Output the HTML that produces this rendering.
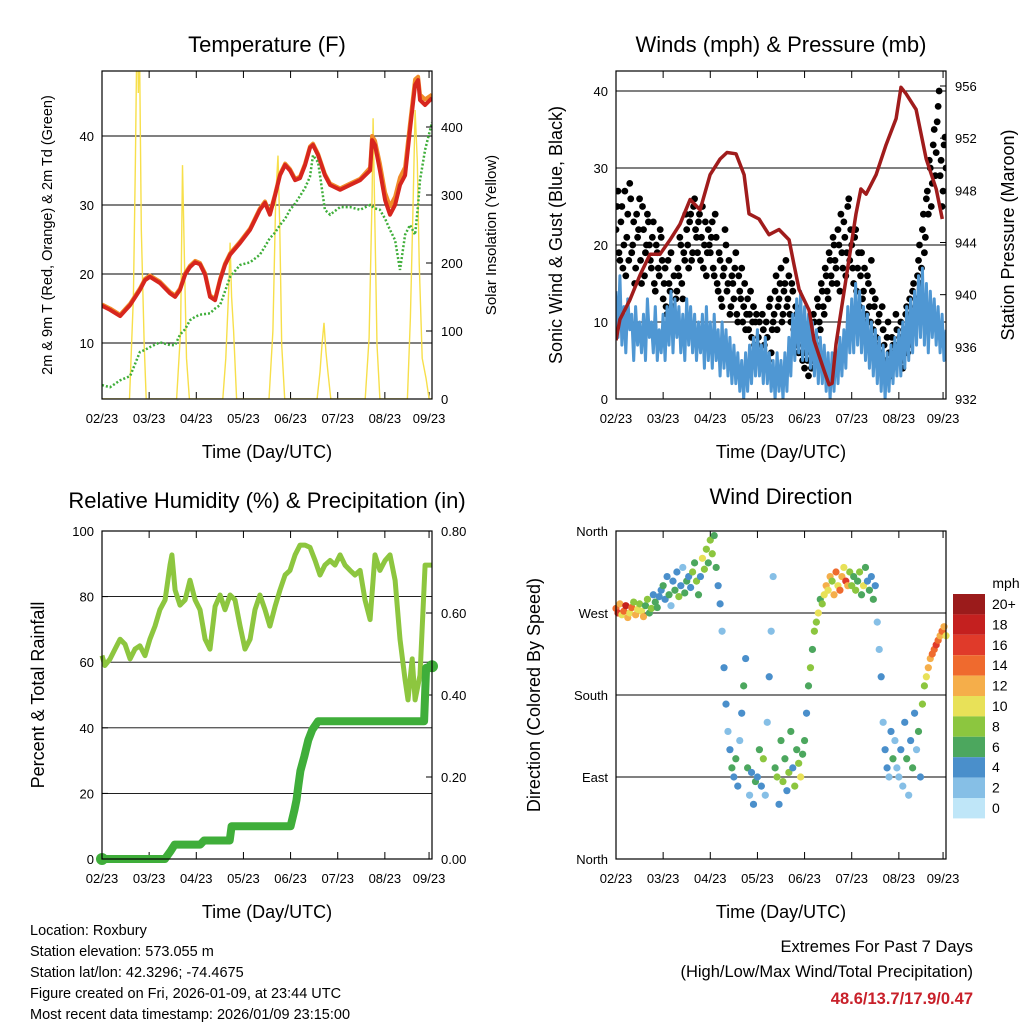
<!DOCTYPE html>
<html><head><meta charset="utf-8"><style>
html,body{margin:0;padding:0;background:#fff;}
svg{display:block;font-family:"Liberation Sans",sans-serif;}
</style></head><body>
<svg id="chart" width="1024" height="1024" viewBox="0 0 1024 1024" xmlns="http://www.w3.org/2000/svg"></svg>
<script>
// ===== shared time ticks (hours from start) =====
const tickHours = [0, 24, 48, 72, 96, 120, 144, 166.5];
const tickLabels = ["02/23","03/23","04/23","05/23","06/23","07/23","08/23","09/23"];

// ===== temperature panel =====
const tempHours = [0,4.1,9.2,14.3,19.3,21.9,24.4,29.5,34.6,37.2,39.7,42.3,44.8,47.4,49.9,52.5,55,57.6,60.1,62.6,65.2,70.3,75.4,80.4,83,85.5,88.1,90.6,93.2,95.7,98.3,100.8,103.4,105.9,107.4,110,113.5,116.1,121.2,126.3,131.4,136.5,137.5,139,141.5,144.1,146.6,149.2,151.7,154.3,156.8,159.4,160.9,161.9,164.5,168];
const tempRed = [15.4,14.8,13.9,15.5,17.7,19.1,19.6,18.7,17.2,16.7,17.7,19.9,21,21.7,21.4,19.9,16.7,16.2,19.1,21.3,22.8,24.5,26.4,29.3,30.3,28.6,31.4,34.3,35.8,35,33.6,33.9,35.8,38.3,38.7,37.2,34.3,32.9,32.2,32.9,33.6,35,39.4,38.7,35,30.7,28.6,30,32.9,34.3,40.9,47.4,48.1,45.2,44.5,45.5];
const tempOrange = [15.6,15,14.1,15.7,17.9,19.3,19.8,18.9,17.4,16.9,17.9,20.1,21.2,21.9,21.6,20.1,16.9,16.4,19.3,21.5,23,24.7,26.6,29.5,30.5,28.8,31.6,34.5,36,35.2,33.8,34.1,36,38.5,38.9,37.4,34.5,33.1,32.4,33.1,33.8,35.4,40,39.3,36,31.8,29.8,31.2,34,35.5,41.8,48.2,48.6,46,45.3,46];
const tempDew = [3.9,3.6,4.6,5.2,8.7,9,9.4,10.1,9.7,9.7,11.2,12,13.3,13.8,14.1,14.2,14.3,15,15.5,17.5,19.6,21.3,21.7,22.8,24,25.2,26,27.1,28,29.3,30.2,31.3,32.5,34.1,37.2,36.2,29.3,28.6,29.7,29.7,29.3,30,29.8,29.5,29.3,28,26.4,24.9,20.6,25.7,27.1,25.7,30,33.6,38,42];
const solarHours = [0,14,16,17,18,18.5,19,20,21.5,22.5,38,40,41,42,43,44.5,61.5,63,64.5,65.2,66,67,68.5,85,87,88.5,89.6,90.5,91.5,93,109.5,111,112,113,114,115,116.5,134,136,137.5,138,139,140,141.5,155.5,157,158.5,159.4,160.5,161.5,163,165,166.5,168];
const solarVals = [0,0,150,350,600,450,550,250,80,0,0,100,344,200,60,0,0,60,160,230,150,100,0,0,100,300,358,250,80,0,0,40,80,112,70,40,0,0,90,300,413,250,80,0,0,120,300,425,350,200,60,30,0,0];

// ===== winds panel =====
const presHours = [0,2,7.1,12.2,17.3,22.4,27.5,32.6,37.7,42.8,47.9,53,56.5,61.1,65.2,67.7,72.8,77.9,83,88.1,90.6,93.2,98.3,100.8,105.9,108.5,110,112,117.1,122.2,124.7,127.3,132.4,137.5,142.6,145.1,147.7,152.8,157.9,163,166.1];
const presVals = [936.5,938.1,939.6,941.5,943.1,943.1,944.2,945.4,947.3,946.5,949.2,950.4,950.9,950.8,949.2,946.2,945.8,944.6,945,944.2,942.3,940.4,938.8,936.5,934.2,933.1,933.2,936.2,941.2,946.2,948.1,947.7,949.2,951.5,953.5,955.9,955.4,954.2,950.4,948.1,945.8];
const gustVals = [22,27,18,25,20,16,24,28,19,23,17,21,26,15,22,19,24,20,17,23,14,19,16,21,
13,17,11,15,19,12,10,14,16,20,13,18,22,17,24,19,26,21,23,18,25,20,16,22,
19,23,16,21,14,18,12,17,20,15,11,16,13,19,10,14,17,12,9,13,11,8,12,10,
7,10,5,9,4,8,12,6,10,14,9,13,17,11,15,12,16,10,14,8,11,6,9,5,
4,7,3,8,5,10,7,12,9,14,11,16,13,18,15,20,17,22,14,19,23,16,25,18,
20,15,22,17,12,19,14,10,16,12,18,9,13,7,11,5,9,4,8,6,3,7,5,9,
6,10,4,8,12,7,11,14,9,13,18,15,22,19,26,24,30,28,35,32,38,29,25,33,30];
const gustValsHalf = [25,19,23,17,27,21,18,26,20,15,24,22,18,25,16,20,23,18,21,15,20,17,22,18,
15,12,18,14,10,16,13,17,21,15,19,24,20,23,18,25,22,19,24,21,17,23,19,20,
21,17,24,15,19,13,16,22,14,18,12,15,17,11,16,13,10,15,11,9,14,10,7,11,
8,6,11,7,10,5,13,9,11,16,12,15,10,14,18,13,11,15,9,12,7,10,6,8,
6,5,9,4,11,8,13,10,15,12,17,14,19,16,21,18,15,20,24,17,21,19,26,22,
17,21,14,19,16,13,17,11,15,10,14,12,8,10,6,12,7,5,10,4,8,6,11,7,
8,5,9,11,6,13,10,15,12,16,20,17,24,21,27,31,25,33,29,36,40,31,27,34];
const windVals = [14,8,16,7,12,6,13,9,11,5,12,7,10,6,11,5,13,8,10,6,12,5,9,6,
11,5,12,7,14,6,13,8,12,6,11,5,13,7,12,6,11,5,10,6,11,4,12,5,
10,4,11,5,9,3,10,4,9,3,8,2,7,2,6,1,5,0,6,1,7,2,8,3,
9,3,7,2,8,2,6,1,5,0,6,1,5,0,6,1,8,3,11,5,13,6,14,5,
12,5,11,4,10,3,9,2,8,2,7,1,6,0,6,1,7,2,8,3,9,4,12,6,
13,6,15,7,14,6,12,5,11,4,10,3,9,2,8,1,7,0,6,1,7,2,8,3,
9,3,10,4,12,5,13,6,14,7,16,8,17,7,15,6,14,8,13,7,12,6,11,5,9];

// ===== humidity panel =====
const rhHours = [0,1.5,4.1,6.6,9.2,11.7,14.3,16.8,19.3,21.9,24.4,27,29.5,32.1,34.6,35.6,37.2,39.7,42.3,44.8,47.4,49.9,52.5,55,57.6,60.1,62.6,65.2,67.7,70.3,72.8,75.4,77.9,80.4,83,85.5,88.1,90.6,93.2,95.7,98.3,100.8,103.4,105.9,108.5,111,113.5,116.1,118.6,121.2,123.7,126.3,128.8,131.4,133.9,136.5,139,141.5,144.1,146.6,149.2,151.7,154.3,155.8,157.9,159.4,161.9,164.5,168];
const rhVals = [62,59,61,64,67,65.5,61,64,65,62,67,71,76,79,89.6,92.7,82,77.4,79,85,79,76,67,64,77,80.5,76,80.5,79,71,64,67,76,80.5,76,71,77,82,86.6,88,92.7,95.7,95.7,95,91,86.6,89.6,91,89.6,92.7,89.6,88,86.6,88,79,73,92.7,88,91,92.7,85,67,54.6,48.5,61,48.5,56,89.6,89.6];
const rainHours = [0,32,35,37,50,52,65,66,96,98,99,100,101,103,105,107,110,164,165,168];
const rainVals = [0,0,0.02,0.035,0.035,0.045,0.045,0.08,0.08,0.12,0.144,0.18,0.215,0.25,0.29,0.315,0.336,0.336,0.466,0.47];

// ===== wind direction panel (hourly) =====
const dirVals = [275,270,280,268,272,278,265,270,276,282,268,274,280,272,266,278,285,270,275,290,282,276,288,295,
300,285,310,290,278,305,295,315,288,300,320,292,305,310,298,315,325,305,290,310,330,318,340,325,
350,335,355,320,300,280,250,210,170,140,120,100,90,110,80,130,160,190,220,100,70,95,60,85,
90,120,80,110,70,150,200,250,310,100,90,60,130,85,110,75,95,140,100,80,120,105,90,115,
130,160,190,210,230,250,260,270,285,280,290,300,295,310,305,290,315,300,295,310,320,305,300,315,
300,310,295,305,315,290,300,320,305,295,310,285,300,260,230,200,150,120,100,90,140,110,130,100,
90,120,80,150,110,70,130,100,160,120,140,90,170,190,200,210,220,225,230,235,240,245,250,255,245];
const spdVals = [14,16,13,11,15,18,12,10,14,9,12,11,8,10,12,7,9,6,8,5,7,6,4,5,
6,5,4,7,3,5,6,4,8,5,3,6,7,4,5,8,6,9,7,5,10,8,9,7,
8,9,7,6,5,4,3,4,5,3,4,6,5,7,4,3,5,6,4,7,3,5,4,6,
5,7,4,8,3,2,4,3,2,6,8,5,7,9,6,4,8,7,5,9,6,8,10,7,
6,5,7,8,6,9,8,10,7,9,11,12,10,13,9,12,14,11,15,13,10,16,12,9,
8,7,9,6,8,7,10,6,5,7,4,6,5,3,2,4,3,4,5,3,4,6,3,2,
3,5,2,4,6,3,5,7,4,2,6,5,8,9,10,12,13,14,15,16,14,12,15,13,11];
const speedBinLabels = ["20+","18","16","14","12","10","8","6","4","2","0"];
const speedBinColors = ["#9b1b1b","#c4201f","#e03a2a","#ef6a2e","#f5ae4a","#e8e158","#8cc63f","#4ca75e","#4a8fcb","#86bfe6","#bfe6f8"];

// ===== helpers =====
const NS="http://www.w3.org/2000/svg";
const svg=document.getElementById('chart');
function el(tag,attrs,parent,text){const e=document.createElementNS(NS,tag);for(const k in attrs)e.setAttribute(k,attrs[k]);if(text!==undefined)e.textContent=text;(parent||svg).appendChild(e);return e;}
function group(name){const g=el('g',{});return g;}
function scale(d0,d1,r0,r1){return v=>r0+(v-d0)/(d1-d0)*(r1-r0);}
function pathD(xs,ys,fx,fy){return xs.map((x,i)=>(i?'L':'M')+fx(x).toFixed(1)+','+fy(ys[i]).toFixed(1)).join('');}
function speedColor(s){let idx=Math.min(10,Math.floor(s/2));return speedBinColors[10-idx];}

function panel(name,x0,y0,x1,y1,title,titleY){
  const g=group(name);
  const t=el('text',{x:(x0+x1)/2,y:titleY,'text-anchor':'middle','font-size':22},g,title);
  
  const xl=el('text',{x:(x0+x1)/2,y:y1+59,'text-anchor':'middle','font-size':18},g,'Time (Day/UTC)');
  
  const fx=scale(0,168,x0,x1);
  tickHours.forEach((h,i)=>{
    el('line',{x1:fx(h),x2:fx(h),y1:y1,y2:y1-7,stroke:'#000','stroke-width':1},g);
    el('line',{x1:fx(h),x2:fx(h),y1:y0,y2:y0+7,stroke:'#000','stroke-width':1},g);
    const tl=el('text',{x:fx(h),y:y1+24,'text-anchor':'middle','font-size':13},g,tickLabels[i]);
    
  });
  return {g,fx};
}
function frame(g,x0,y0,x1,y1){el('rect',{x:x0,y:y0,width:x1-x0,height:y1-y0,fill:'none',stroke:'#000','stroke-width':1.2},g);}
function yTicks(g,vals,labels,fy,x0,x1,side,grid){
  vals.forEach((v,i)=>{
    const y=fy(v);
    if(grid) el('line',{x1:x0,x2:x1,y1:y,y2:y,stroke:'#000','stroke-width':0.9},g);
    const xx=side==='left'?x0:x1;
    el('line',{x1:xx,x2:side==='left'?xx+6:xx-6,y1:y,y2:y,stroke:'#000'},g);
    const t=el('text',{x:side==='left'?x0-8:x1+9,y:y+5,'text-anchor':side==='left'?'end':'start','font-size':13},g,labels[i]);
    
  });
}
function vlabel(g,x,y,text,size,name){const t=el('text',{x:x,y:y,'text-anchor':'middle','font-size':size,transform:`rotate(-90 ${x} ${y})`},g,text);}

// ===== Panel 1: Temperature =====
(function(){
  const X0=102,Y0=71,X1=432,Y1=399;
  const {g,fx}=panel('temperature-panel',X0,Y0,X1,Y1,'Temperature (F)',52);
  const fy=scale(10,40,343,136);
  const fs=scale(0,400,399,127);
  yTicks(g,[10,20,30,40],['10','20','30','40'],fy,X0,X1,'left',true);
  yTicks(g,[0,100,200,300,400],['0','100','200','300','400'],fs,X0,X1,'right',false);
  vlabel(g,52,235,'2m & 9m T (Red, Orange) & 2m Td (Green)',14.5,'temperature-y-axis-title');
  vlabel(g,496,235,'Solar Insolation (Yellow)',15,'solar-y-axis-title');
  const clip=el('clipPath',{id:'c1'},g);el('rect',{x:X0,y:Y0,width:X1-X0,height:Y1-Y0},clip);
  const sg=el('g',{'clip-path':'url(#c1)'},g);
  const sp=el('path',{d:pathD(solarHours,solarVals,fx,fs),fill:'none',stroke:'#f7df4a','stroke-width':1.4},sg);
  
  const op=el('path',{d:pathD(tempHours,tempOrange,fx,fy),fill:'none',stroke:'#f08c2a','stroke-width':4,'stroke-linejoin':'round'},sg);
  
  const rp=el('path',{d:pathD(tempHours,tempRed,fx,fy),fill:'none',stroke:'#d7261e','stroke-width':4,'stroke-linejoin':'round'},sg);
  
  const dp=el('path',{d:pathD(tempHours,tempDew,fx,fy),fill:'none',stroke:'#3fae3a','stroke-width':2.5,'stroke-dasharray':'2 2'},sg);
  
  frame(g,X0,Y0,X1,Y1);
})();

// ===== Panel 2: Winds =====
(function(){
  const X0=616,Y0=71,X1=946,Y1=399;
  const {g,fx}=panel('winds-panel',X0,Y0,X1,Y1,'Winds (mph) & Pressure (mb)',52);
  const fy=scale(0,40,399,91);
  const fp=scale(932,956,399,86);
  yTicks(g,[0,10,20,30,40],['0','10','20','30','40'],fy,X0,X1,'left',true);
  yTicks(g,[932,936,940,944,948,952,956],['932','936','940','944','948','952','956'],fp,X0,X1,'right',false);
  vlabel(g,562,235,'Sonic Wind & Gust (Blue, Black)',18,'wind-y-axis-title');
  vlabel(g,1014,235,'Station Pressure (Maroon)',18,'pressure-y-axis-title');
  const clip=el('clipPath',{id:'c2'},g);el('rect',{x:X0,y:Y0,width:X1-X0,height:Y1-Y0},clip);
  const sg=el('g',{'clip-path':'url(#c2)'},g);
  gustVals.forEach((v,i)=>{
    const c=el('circle',{cx:fx(i),cy:fy(v),r:3.4,fill:'#000'},sg);
    
  });
  gustValsHalf.forEach((v,i)=>{
    const c=el('circle',{cx:fx(i+0.5),cy:fy(v),r:3.4,fill:'#000'},sg);
    
  });
  const wh=windVals.map((_,i)=>i);
  const wp=el('path',{d:pathD(wh,windVals,fx,fy),fill:'none',stroke:'#4f97d3','stroke-width':3,'stroke-linejoin':'round'},sg);
  
  const pp=el('path',{d:pathD(presHours,presVals,fx,fp),fill:'none',stroke:'#a01c1c','stroke-width':3.5,'stroke-linejoin':'round'},sg);
  
  frame(g,X0,Y0,X1,Y1);
})();

// ===== Panel 3: RH & Precip =====
(function(){
  const X0=102,Y0=531,X1=432,Y1=859;
  const {g,fx}=panel('humidity-panel',X0,Y0,X1,Y1,'Relative Humidity (%) & Precipitation (in)',508);
  const fy=scale(0,100,859,531);
  const fr=scale(0,0.8,859,531);
  yTicks(g,[0,20,40,60,80,100],['0','20','40','60','80','100'],fy,X0,X1,'left',true);
  yTicks(g,[0,0.2,0.4,0.6,0.8],['0.00','0.20','0.40','0.60','0.80'],fr,X0,X1,'right',false);
  vlabel(g,44,695,'Percent & Total Rainfall',18,'humidity-y-axis-title');
  const rh=el('path',{d:pathD(rhHours,rhVals,fx,fy),fill:'none',stroke:'#8dc63f','stroke-width':5,'stroke-linejoin':'round'},g);
  
  const rp=el('path',{d:pathD(rainHours,rainVals,fx,fr),fill:'none',stroke:'#3fae3a','stroke-width':8,'stroke-linejoin':'round'},g);
  
  [0,rainHours.length-1].forEach(i=>{el('circle',{cx:fx(rainHours[i]),cy:fr(rainVals[i]),r:6,fill:'#3fae3a'},g);});
  frame(g,X0,Y0,X1,Y1);
})();

// ===== Panel 4: Wind direction =====
(function(){
  const X0=616,Y0=531,X1=946,Y1=859;
  const {g,fx}=panel('wind-direction-panel',X0,Y0,X1,Y1,'Wind Direction',504);
  const fy=scale(0,360,859,531);
  yTicks(g,[0,90,180,270,360],['North','East','South','West','North'],fy,X0,X1,'left',true);
  vlabel(g,540,695,'Direction (Colored By Speed)',18,'direction-y-axis-title');
  dirVals.forEach((d,i)=>{
    const c=el('circle',{cx:fx(i),cy:fy(d),r:3.6,fill:speedColor(spdVals[i])},g);
    
  });
  frame(g,X0,Y0,X1,Y1);
  const lg=group('speed-colorbar');
  const t=el('text',{x:1006,y:588,'text-anchor':'middle','font-size':14},lg,'mph');
  
  speedBinColors.forEach((c,i)=>{
    el('rect',{x:953,y:594+i*20.4,width:32,height:20.4,fill:c},lg);
    const l=el('text',{x:992,y:609+i*20.4,'font-size':14},lg,speedBinLabels[i]);
    
  });
})();

// ===== Footer =====
(function(){
  const g=group('station-info');
  ['Location: Roxbury','Station elevation: 573.055 m','Station lat/lon: 42.3296; -74.4675','Figure created on Fri, 2026-01-09, at 23:44 UTC','Most recent data timestamp: 2026/01/09 23:15:00'].forEach((s,i)=>{
    el('text',{x:30,y:935+i*21,'font-size':14.5},g,s);
  });
  const e=group('extremes-summary');
  el('text',{x:973,y:952,'text-anchor':'end','font-size':16.5},e,'Extremes For Past 7 Days');
  el('text',{x:973,y:977,'text-anchor':'end','font-size':16.5},e,'(High/Low/Max Wind/Total Precipitation)');
  el('text',{x:973,y:1004,'text-anchor':'end','font-size':16.5,'font-weight':'bold',fill:'#c8202a'},e,'48.6/13.7/17.9/0.47');
})();
</script>
</body></html>
